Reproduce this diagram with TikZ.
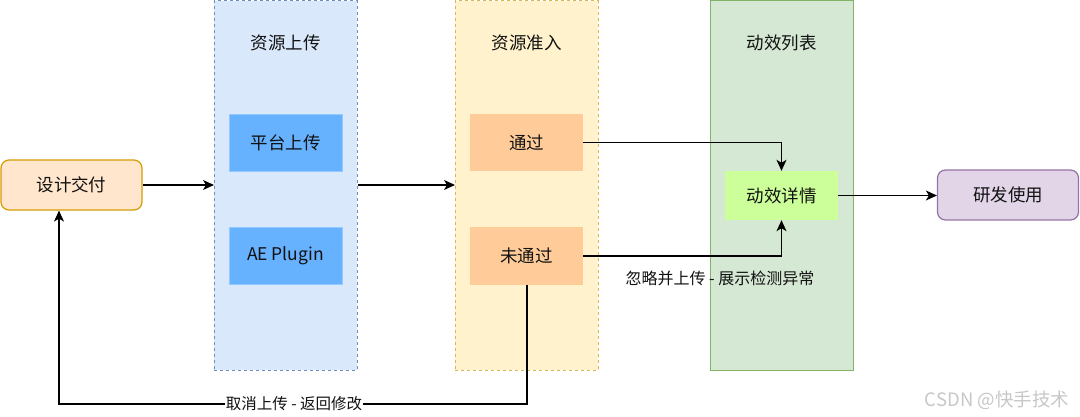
\documentclass[tikz,border=0pt]{standalone}
\usepackage{fontspec}
\setmainfont{Noto Sans CJK SC}
\usetikzlibrary{arrows.meta}
\definecolor{laneBfill}{HTML}{DAE8FC}\definecolor{laneBline}{HTML}{6C8EBF}
\definecolor{laneYfill}{HTML}{FFF2CC}\definecolor{laneYline}{HTML}{D6B656}
\definecolor{laneGfill}{HTML}{D5E8D4}\definecolor{laneGline}{HTML}{82B366}
\definecolor{orgfill}{HTML}{FFE6CC}\definecolor{orgline}{HTML}{D79B00}
\definecolor{purfill}{HTML}{E1D5E7}\definecolor{purline}{HTML}{9673A6}
\definecolor{bluebox}{HTML}{66B2FF}
\definecolor{peach}{HTML}{FFCC99}
\definecolor{lime}{HTML}{CCFF99}
\definecolor{txt}{HTML}{111111}
\tikzset{
  lane/.style={draw, line width=0.9pt, minimum width=143pt, minimum height=369pt, anchor=north west, inner sep=0pt},
  inbox/.style={minimum width=113pt, minimum height=57pt, inner sep=0pt, font=\fontsize{17.5}{20}\selectfont, text=txt},
  endbox/.style={draw, line width=1.2pt, rounded corners=8pt, minimum width=141pt, minimum height=50pt, inner sep=0pt, font=\fontsize{17.5}{20}\selectfont, text=txt},
  lanetitle/.style={font=\fontsize{17.5}{20}\selectfont, text=txt},
  conn/.style={draw, line width=1.2pt, -{Stealth[length=11pt,width=10pt,inset=3pt]}},
  lbl/.style={font=\fontsize{15.5}{18}\selectfont, text=txt, fill=white, inner sep=1pt}
}
\begin{document}
\begin{tikzpicture}[x=1pt,y=-1pt]
\useasboundingbox (0,0) rectangle (1080,417);
% lanes
\node[lane, dashed, fill=laneBfill, draw=laneBline] (laneB) at (214,0.5) {};
\node[lane, dashed, fill=laneYfill, draw=laneYline] (laneY) at (455,0.5) {};
\node[lane, fill=laneGfill, draw=laneGline] (laneG) at (710,0.5) {};
\node[lanetitle] (tB) at (285.5,43) {资源上传};
\node[lanetitle] (tY) at (526.5,43) {资源准入};
\node[lanetitle] (tG) at (781.5,43) {动效列表};
% inner boxes
\node[inbox, fill=bluebox, draw=bluebox!70!white] (pt) at (285.5,142.5) {平台上传};
\node[inbox, fill=bluebox, draw=bluebox!70!white] (ae) at (285.5,256) {AE Plugin};
\node[inbox, fill=peach] (pass) at (526.5,142.5) {通过};
\node[inbox, fill=peach] (fail) at (526.5,256) {未通过};
\node[inbox, fill=lime, minimum height=49pt] (detail) at (781.5,195.5) {动效详情};
% end boxes
\node[endbox, fill=orgfill, draw=orgline] (design) at (71.5,185) {设计交付};
\node[endbox, fill=purfill, draw=purline] (dev) at (1008,195) {研发使用};
% connectors
\draw[conn] (design.east) -- (laneB.west |- design.east);
\draw[conn] (laneB.east |- design.east) -- (laneY.west |- design.east);
\draw[conn] (pass.east) -| (detail.north);
\draw[conn] (fail.east) -| (detail.south);
\draw[conn] (detail.east) -- (dev.west |- detail.east);
\coordinate (c1) at (527,404);
\coordinate (c2) at (59,404);
\draw[conn] (fail.south -| c1) -- (c1) -- (c2) -- (design.south -| c2);
\node[lbl] (l1) at (294,404) {取消上传 - 返回修改};
\node[font=\fontsize{16}{18}\selectfont, text=txt] (l2) at (720,278) {忽略并上传 - 展示检测异常};
\node[font=\fontsize{18.5}{20}\selectfont, text=black!22] (wm) at (997,400) {CSDN @快手技术};
\end{tikzpicture}
\end{document}
